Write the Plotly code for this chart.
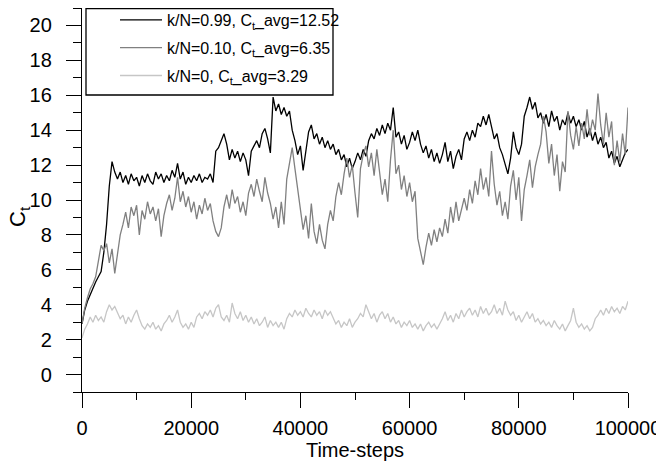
import plotly.graph_objects as go

# time axis: one sample every 500 steps
STEP = 500
N_POINTS = 201
time_steps = [i * STEP for i in range(N_POINTS)]

# k/N = 0.99
ct_099 = [
    2.9, 3.7, 4.2, 4.6, 5.0, 5.3, 5.6, 5.9, 7.0, 8.6,
    10.8, 12.2, 11.6, 11.2, 11.6, 11.0, 11.4, 10.9, 11.5, 11.1,
    11.3, 10.8, 11.4, 11.0, 11.5, 11.1, 10.9, 11.6, 11.2, 11.5,
    11.0, 11.4, 11.1, 11.7, 11.3, 12.1, 11.2, 11.6, 10.9, 11.3,
    11.0, 11.4, 11.1, 11.5, 11.0, 11.3, 11.2, 11.5, 11.0, 12.8,
    13.0, 13.4, 13.8, 13.2, 12.3, 12.9, 12.4, 12.8, 12.2, 12.7,
    12.3, 11.4, 12.8, 13.1, 13.4, 13.0, 13.8, 14.1, 13.5, 12.7,
    15.9, 15.1, 15.5, 14.9, 15.3, 14.8, 15.1, 14.0, 13.4, 12.6,
    13.1, 11.7, 12.8, 13.9, 14.3, 13.5, 13.8, 13.2, 13.6, 13.0,
    13.4, 12.9, 13.2, 12.6, 12.9, 12.3, 12.6, 11.9, 12.4, 11.8,
    12.2, 12.7, 12.3, 12.9, 12.5, 13.4, 13.8, 13.5, 14.1, 13.7,
    14.3, 13.8, 14.4, 14.0, 15.3, 13.6, 13.9, 13.2, 13.7, 12.9,
    13.3, 13.9, 13.4, 14.0, 13.2, 12.7, 13.1, 12.4, 12.9, 12.2,
    12.7, 12.1, 12.6, 13.3, 12.2, 12.8, 11.8, 12.5, 12.9, 12.3,
    13.5, 13.9, 13.4, 14.0, 13.6, 14.4, 14.2, 14.8, 14.3, 14.9,
    14.2, 13.5, 13.8, 13.0, 12.6, 12.1, 11.5, 12.4, 13.9, 13.0,
    12.6, 13.2, 14.8, 15.3, 15.9, 15.2, 15.6, 14.7, 15.0, 14.4,
    14.9, 14.2, 15.1, 14.5, 14.8, 14.0, 14.6, 14.3, 15.0, 14.4,
    14.8, 14.2, 14.6, 14.0, 14.5, 13.6, 14.1, 13.4, 13.9, 13.2,
    13.6, 13.0, 13.3, 12.4, 12.8, 12.1, 12.5, 11.9, 12.3, 12.7,
    12.9,
]

# k/N = 0.10
ct_010 = [
    2.9, 3.8, 4.4, 4.9, 5.2, 5.6, 6.5, 7.4, 7.1, 7.5,
    6.4, 7.2, 5.8, 6.9, 8.0, 8.6, 9.3, 8.4, 9.6, 9.1,
    9.7, 8.0, 9.4, 8.9, 9.9, 9.2, 9.6, 8.8, 9.5, 7.9,
    9.1, 9.8, 10.3, 9.4, 10.1, 11.3, 9.9, 10.5, 9.6, 10.2,
    9.3, 9.9, 8.9, 9.7, 9.2, 10.1, 9.4, 9.8, 8.8, 8.2,
    7.9, 8.4, 9.6, 10.3, 9.5, 10.6, 9.8, 10.2, 9.3, 9.9,
    9.1, 10.4, 10.9, 10.2, 11.2, 10.5, 9.9, 11.3, 10.4, 9.8,
    8.9, 9.6, 8.4, 9.9, 8.6, 11.2, 12.2, 13.0, 11.8, 10.6,
    9.4, 8.3, 9.1, 7.8, 9.8, 8.2, 7.5, 8.6, 7.7, 7.2,
    8.6, 9.4, 8.8, 10.2, 11.0, 10.3, 11.5, 12.4, 11.3, 12.0,
    10.4, 9.0, 11.8, 12.6, 13.1, 11.9, 12.7, 11.4, 12.9, 11.6,
    10.3, 11.2, 9.9, 12.3, 14.0, 11.5, 12.0, 10.6, 11.4, 10.2,
    11.0, 9.9, 10.5, 7.8, 7.1, 6.3, 7.3, 8.1, 7.4, 8.3,
    7.6, 8.4, 7.9, 8.9, 8.1, 9.6, 8.7, 9.9, 8.8, 9.5,
    10.1, 9.4, 10.6, 9.8, 11.1, 10.3, 11.8, 10.6, 11.3, 10.2,
    12.8, 10.9, 9.7, 10.5, 9.1, 9.9, 8.9, 10.8, 11.7, 10.0,
    11.3, 8.8, 10.6, 11.4, 12.3, 10.7, 11.9, 12.6, 13.2, 14.8,
    13.9, 12.1, 13.2, 11.4, 12.6, 10.5, 12.2, 11.6, 15.1, 13.7,
    12.9, 14.2, 13.1, 14.4, 13.5, 15.2, 13.7, 14.6, 14.0, 16.1,
    14.3, 13.2, 15.0, 13.6, 14.5, 12.0, 13.4, 12.2, 13.8, 12.6,
    15.3,
]

# k/N = 0
ct_000 = [
    2.1, 2.6, 2.9, 3.3, 3.0, 3.4, 3.1, 3.3, 3.0, 3.6,
    4.0, 3.7, 3.9, 3.5, 3.2, 3.4, 2.9, 3.3, 3.0, 3.4,
    3.7, 3.2, 2.8, 2.6, 2.9, 2.7, 3.0, 2.6, 2.8, 2.5,
    2.9, 3.1, 3.4, 3.0, 3.3, 3.7, 3.0, 2.7, 2.9, 2.6,
    3.0, 2.7, 3.3, 3.5, 3.2, 3.6, 3.4, 3.7, 3.3, 3.8,
    4.0, 3.3, 3.1, 3.4, 3.0, 4.1, 3.5, 3.2, 3.6, 3.1,
    3.4, 3.0, 3.3, 2.9, 3.2, 2.8, 3.0, 3.3, 2.7, 3.1,
    2.8, 3.0, 2.7, 3.0, 2.6, 3.2, 3.5, 3.3, 3.7, 3.4,
    3.6, 3.3, 3.8, 3.5, 3.3, 3.7, 3.4, 3.6, 3.2, 3.7,
    3.4, 3.6, 3.2, 2.9, 3.1, 2.7, 3.0, 2.8, 3.2, 2.7,
    3.0, 3.2, 3.5, 3.3, 4.0, 3.6, 3.2, 3.5, 3.0, 3.4,
    3.6, 3.2, 3.5, 3.0, 3.3, 2.9, 3.1, 2.7, 3.0, 2.8,
    3.1, 2.7, 2.9, 2.6, 2.9, 2.5, 2.8, 3.0, 2.7, 2.9,
    2.6, 2.9, 3.2, 3.6, 3.1, 3.4, 3.0, 3.5, 3.2, 3.7,
    3.3, 3.6, 3.8, 3.4, 3.7, 3.3, 3.9, 3.5, 3.8, 3.4,
    3.6, 4.0, 3.5, 3.8, 3.4, 4.2, 3.7, 3.4, 3.6, 3.1,
    3.4, 3.0, 3.3, 3.6, 3.2, 3.5, 3.0, 3.2, 2.9, 3.1,
    2.8, 3.0, 2.7, 3.1, 2.8, 2.6, 2.9, 2.5, 2.8, 3.1,
    3.8, 3.0, 2.7, 2.9, 2.6, 2.8, 2.5, 2.7, 3.2, 3.4,
    3.7, 3.4, 3.8, 3.5, 3.9, 3.6, 3.8, 3.5, 3.9, 3.7,
    4.2,
]

series_names = [
    "k/N=0.99, C<sub>t</sub>_avg=12.52",
    "k/N=0.10, C<sub>t</sub>_avg=6.35",
    "k/N=0, C<sub>t</sub>_avg=3.29",
]
series_values = [ct_099, ct_010, ct_000]
series_colors = ["#000000", "#808080", "#c6c6c6"]

FONT = "Arial, Liberation Sans, sans-serif"

# the page body adds an 8px offset, so the figure is sized to fit inside it
FIG_W, FIG_H = 656, 463
PLOT_L, PLOT_T, PLOT_W, PLOT_H = 74, 0, 546, 384

fig = go.Figure()
for i, (name, vals, col) in enumerate(zip(series_names, series_values, series_colors)):
    fig.add_trace(go.Scatter(
        x=time_steps, y=vals, mode="lines", name=name,
        line=dict(color=col, width=1.3),
        legendgroup=f"g{i}",
    ))

axis_common = dict(
    showline=True, linecolor="#000000", linewidth=1.3,
    ticks="outside", ticklen=15, tickwidth=1.3, tickcolor="#000000",
    showgrid=False, zeroline=False, mirror=False,
    tickfont=dict(family=FONT, size=20, color="#000000"),
)

fig.update_xaxes(
    range=[0, 100000], dtick=20000, tick0=0, tickformat="d",
    minor=dict(dtick=10000, ticklen=7, tickwidth=1.3, tickcolor="#000000", ticks="outside"),
    title=dict(text="Time-steps", font=dict(family=FONT, size=20, color="#000000"), standoff=4),
    ticklabelstandoff=3,
    **axis_common,
)
fig.update_yaxes(
    range=[-1, 21], dtick=2, tick0=0,
    minor=dict(dtick=1, ticklen=8, tickwidth=1.3, tickcolor="#000000", ticks="outside"),
    ticklabelstandoff=10,
    **axis_common,
)

# y-axis title, placed by hand so it sits left of the tick labels
fig.add_annotation(
    text="C<sub>t</sub>", textangle=-90, showarrow=False,
    xref="paper", yref="paper",
    x=(11 - PLOT_L) / PLOT_W, y=(PLOT_H - 209) / PLOT_H,
    xanchor="center", yanchor="middle",
    font=dict(family=FONT, size=22, color="#000000"),
)

# legend frame
fig.add_shape(
    type="rect", xref="paper", yref="paper",
    x0=(78 - PLOT_L) / PLOT_W, x1=(325 - PLOT_L) / PLOT_W,
    y0=(PLOT_H - 87) / PLOT_H, y1=(PLOT_H - 0.7) / PLOT_H,
    line=dict(color="#000000", width=1.3), fillcolor="rgba(0,0,0,0)",
)

fig.update_layout(
    width=FIG_W, height=FIG_H,
    margin=dict(l=PLOT_L, r=FIG_W - PLOT_L - PLOT_W, t=PLOT_T, b=FIG_H - PLOT_H, autoexpand=False),
    paper_bgcolor="#ffffff", plot_bgcolor="#ffffff",
    font=dict(family=FONT, size=16, color="#000000"),
    showlegend=True,
    legend=dict(
        x=(107 - PLOT_L) / PLOT_W, y=(PLOT_H + 5) / PLOT_H,
        xanchor="left", yanchor="top",
        bgcolor="rgba(0,0,0,0)", borderwidth=0,
        font=dict(family=FONT, size=16, color="#000000"),
        itemwidth=42, tracegroupgap=4,
    ),
)

fig.write_html("out.html")
